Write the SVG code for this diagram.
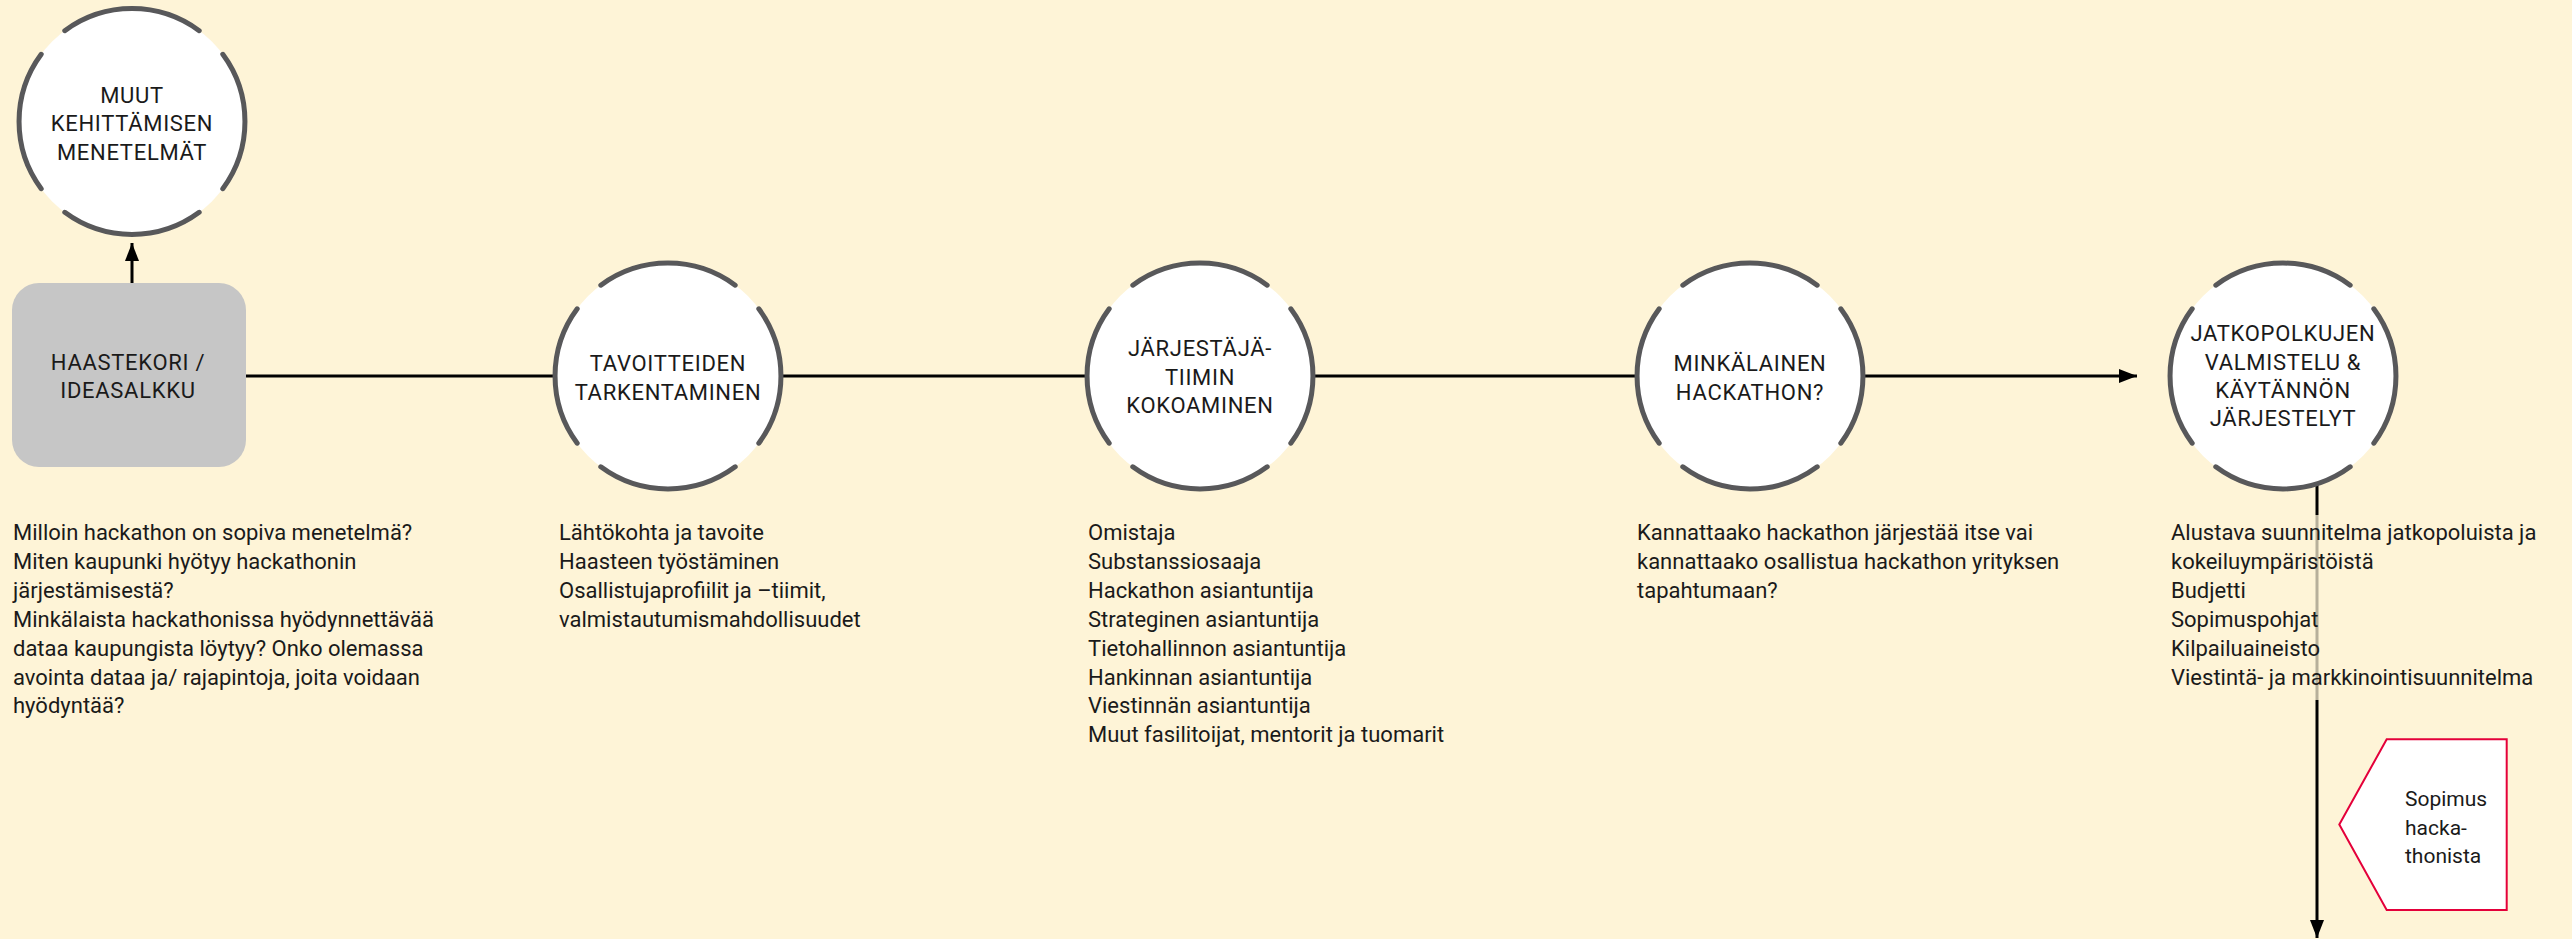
<svg xmlns="http://www.w3.org/2000/svg" xmlns:xlink="http://www.w3.org/1999/xlink" width="2572" height="939" viewBox="0 0 2572 939">
  <style>
    .cap { font-family: Roboto, "Liberation Sans", sans-serif; font-size: 22px; letter-spacing: 0.7px; fill: #1a1a1a; text-anchor: middle; }
    .body { font-family: Roboto, "Liberation Sans", sans-serif; font-size: 22px; fill: #1a1a1a; }
    .note { font-family: Roboto, "Liberation Sans", sans-serif; font-size: 21px; fill: #1a1a1a; }
    .wire { stroke: #000; stroke-width: 3; fill: none; }
    .ring-arcs { fill: none; stroke: #58585a; stroke-width: 5; stroke-linecap: round; }
  </style>
  <defs>
    <marker id="arrow" markerUnits="userSpaceOnUse" markerWidth="18" markerHeight="14" refX="18" refY="7" orient="auto">
      <path d="M0,0 L18,7 L0,14 z" fill="#000"/>
    </marker>
    <!-- white disc with four arcs, gaps on the diagonals -->
    <g id="ring">
      <circle r="113" fill="#fff"/>
      <path class="ring-arcs" d="M-67.2,-90.8 A113,113 0 0 1 67.2,-90.8 M90.8,-67.2 A113,113 0 0 1 90.8,67.2 M67.2,90.8 A113,113 0 0 1 -67.2,90.8 M-90.8,67.2 A113,113 0 0 1 -90.8,-67.2"/>
    </g>
  </defs>

  <rect width="2572" height="939" fill="#fef4d7"/>

  <g id="connectors">
    <line class="wire" x1="246" y1="376" x2="2137" y2="376" marker-end="url(#arrow)"/>
    <line class="wire" x1="132" y1="283" x2="132" y2="243" marker-end="url(#arrow)"/>
    <line class="wire" x1="2317" y1="470" x2="2317" y2="938" marker-end="url(#arrow)"/>
  </g>

  <g id="haastekori">
    <rect x="12" y="283" width="234" height="184" rx="27" fill="#c6c6c6"/>
    <text class="cap" x="128" y="369.5">HAASTEKORI /</text>
    <text class="cap" x="128" y="397.8">IDEASALKKU</text>
  </g>

  <g id="muut-menetelmat">
    <use xlink:href="#ring" transform="translate(132,121.5)"/>
    <text class="cap" x="132" y="102.8">MUUT</text>
    <text class="cap" x="132" y="130.5">KEHITTÄMISEN</text>
    <text class="cap" x="132" y="159.5">MENETELMÄT</text>
  </g>

  <g id="tavoitteiden-tarkentaminen">
    <use xlink:href="#ring" transform="translate(668,376)"/>
    <text class="cap" x="668" y="370.5">TAVOITTEIDEN</text>
    <text class="cap" x="668" y="399.5">TARKENTAMINEN</text>
  </g>

  <g id="jarjestajatiimi">
    <use xlink:href="#ring" transform="translate(1200,376)"/>
    <text class="cap" x="1200" y="356.3">JÄRJESTÄJÄ-</text>
    <text class="cap" x="1200" y="384.8">TIIMIN</text>
    <text class="cap" x="1200" y="413.3">KOKOAMINEN</text>
  </g>

  <g id="minkalainen-hackathon">
    <use xlink:href="#ring" transform="translate(1750,376)"/>
    <text class="cap" x="1750" y="370.5">MINKÄLAINEN</text>
    <text class="cap" x="1750" y="399.5">HACKATHON?</text>
  </g>

  <g id="jatkopolut">
    <use xlink:href="#ring" transform="translate(2283,376)"/>
    <text class="cap" x="2283" y="341.2">JATKOPOLKUJEN</text>
    <text class="cap" x="2283" y="369.5">VALMISTELU &amp;</text>
    <text class="cap" x="2283" y="397.8">KÄYTÄNNÖN</text>
    <text class="cap" x="2283" y="426.1">JÄRJESTELYT</text>
  </g>

  <g id="notes-haastekori">
    <text class="body" y="540">
      <tspan x="13">Milloin hackathon on sopiva menetelmä?</tspan>
      <tspan x="13" dy="28.9">Miten kaupunki hyötyy hackathonin</tspan>
      <tspan x="13" dy="28.9">järjestämisestä?</tspan>
      <tspan x="13" dy="28.9">Minkälaista hackathonissa hyödynnettävää</tspan>
      <tspan x="13" dy="28.9">dataa kaupungista löytyy? Onko olemassa</tspan>
      <tspan x="13" dy="28.9">avointa dataa ja/ rajapintoja, joita voidaan</tspan>
      <tspan x="13" dy="28.9">hyödyntää?</tspan>
    </text>
  </g>

  <g id="notes-tavoitteet">
    <text class="body" y="540">
      <tspan x="559">Lähtökohta ja tavoite</tspan>
      <tspan x="559" dy="28.9">Haasteen työstäminen</tspan>
      <tspan x="559" dy="28.9">Osallistujaprofiilit ja –tiimit,</tspan>
      <tspan x="559" dy="28.9">valmistautumismahdollisuudet</tspan>
    </text>
  </g>

  <g id="notes-tiimi">
    <text class="body" y="540">
      <tspan x="1088">Omistaja</tspan>
      <tspan x="1088" dy="28.9">Substanssiosaaja</tspan>
      <tspan x="1088" dy="28.9">Hackathon asiantuntija</tspan>
      <tspan x="1088" dy="28.9">Strateginen asiantuntija</tspan>
      <tspan x="1088" dy="28.9">Tietohallinnon asiantuntija</tspan>
      <tspan x="1088" dy="28.9">Hankinnan asiantuntija</tspan>
      <tspan x="1088" dy="28.9">Viestinnän asiantuntija</tspan>
      <tspan x="1088" dy="28.9">Muut fasilitoijat, mentorit ja tuomarit</tspan>
    </text>
  </g>

  <g id="notes-hackathon">
    <text class="body" y="540">
      <tspan x="1637">Kannattaako hackathon järjestää itse vai</tspan>
      <tspan x="1637" dy="28.9">kannattaako osallistua hackathon yrityksen</tspan>
      <tspan x="1637" dy="28.9">tapahtumaan?</tspan>
    </text>
  </g>

  <g id="notes-jatkopolut">
    <!-- translucent text panel laid over the down connector -->
    <rect x="2160" y="515" width="400" height="185" fill="#fef4d7" fill-opacity="0.72"/>
    <text class="body" y="540">
      <tspan x="2171">Alustava suunnitelma jatkopoluista ja</tspan>
      <tspan x="2171" dy="28.9">kokeiluympäristöistä</tspan>
      <tspan x="2171" dy="28.9">Budjetti</tspan>
      <tspan x="2171" dy="28.9">Sopimuspohjat</tspan>
      <tspan x="2171" dy="28.9">Kilpailuaineisto</tspan>
      <tspan x="2171" dy="28.9">Viestintä- ja markkinointisuunnitelma</tspan>
    </text>
  </g>

  <g id="sopimus">
    <polygon points="2386.7,739.3 2506.7,739.3 2506.7,910 2386.7,910 2339.3,824.5" fill="#fff" stroke="#e4003a" stroke-width="2"/>
    <text class="note" y="806">
      <tspan x="2405">Sopimus</tspan>
      <tspan x="2405" dy="28.5">hacka-</tspan>
      <tspan x="2405" dy="28.5">thonista</tspan>
    </text>
  </g>
</svg>
